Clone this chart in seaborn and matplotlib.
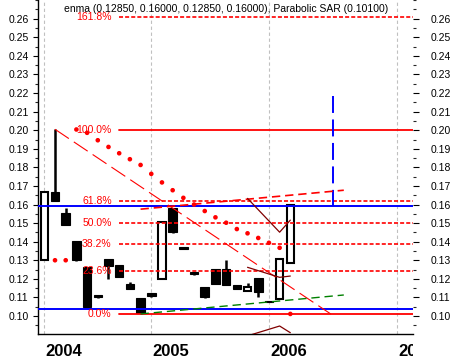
import numpy as np
import seaborn as sns
import matplotlib
matplotlib.use("Agg")
import matplotlib.pyplot as plt
from matplotlib.ticker import MultipleLocator, FixedLocator, FormatStrFormatter
from matplotlib.transforms import Bbox, TransformedBbox, blended_transform_factory

# candles (one per period, index 0 = first 2004 bar)
opens  = [0.1300, 0.1665, 0.1555, 0.1403, 0.1262, 0.1113, 0.1306, 0.1274, 0.1170, 0.1097,
          0.1122, 0.1199, 0.1580, 0.1370, 0.1235, 0.1154, 0.1253, 0.1253, 0.1165, 0.1136,
          0.1203, 0.1078, 0.1090, 0.1285]
highs  = [0.1670, 0.2005, 0.1580, 0.1403, 0.1262, 0.1113, 0.1306, 0.1274, 0.1185, 0.1097,
          0.1122, 0.1504, 0.1580, 0.1370, 0.1235, 0.1154, 0.1255, 0.1300, 0.1165, 0.1176,
          0.1203, 0.1078, 0.1305, 0.1605]
lows   = [0.1300, 0.1620, 0.1490, 0.1297, 0.1050, 0.1095, 0.1197, 0.1210, 0.1143, 0.1010,
          0.1100, 0.1199, 0.1445, 0.1358, 0.1220, 0.1097, 0.1174, 0.1168, 0.1143, 0.1136,
          0.1100, 0.1074, 0.1090, 0.1285]
closes = [0.1670, 0.1620, 0.1490, 0.1300, 0.1050, 0.1100, 0.1270, 0.1210, 0.1143, 0.1014,
          0.1108, 0.1504, 0.1450, 0.1360, 0.1225, 0.1104, 0.1174, 0.1168, 0.1143, 0.1158,
          0.1131, 0.1074, 0.1305, 0.1600]

# parabolic SAR dots
sar_x = list(range(1, 24))
sar_y = [0.1300, 0.1300, 0.2004, 0.1986, 0.1946, 0.1910, 0.1876, 0.1844, 0.1813, 0.1765,
         0.1719, 0.1677, 0.1636, 0.1600, 0.1565, 0.1531, 0.1502, 0.1468, 0.1445, 0.1420,
         0.1394, 0.1367, 0.1011]

# fibonacci retracement
fib_labels = ["0.0%", "23.6%", "38.2%", "50.0%", "61.8%", "100.0%", "161.8%"]
fib_levels = [0.1010, 0.1243, 0.1387, 0.1502, 0.1620, 0.2000, 0.2607]
fib_solid  = [True, False, False, False, False, True, False]

# support / resistance
hlines_blue = [0.1036, 0.1591]
vline_x, vline_y = [27, 27], [0.2183, 0.1590]

# trend line and channel
trend_x, trend_y = [1, 26.8], [0.2005, 0.1010]
chan_x = [9, 28]
chan_up = [0.1575, 0.1677]
chan_lo = [0.1011, 0.1113]

# envelope lines
env_x = [19, 22, 23]
env_up = [0.1633, 0.1451, 0.1516]
env_mid = [0.1262, 0.1208, 0.1215]
env_lo = [0.0893, 0.0946, 0.0910]

years = ["2004", "2005", "2006", "2007"]
year_pos = [0, 10, 21, 33]

title = "enma (0.12850, 0.16000, 0.12850, 0.16000), Parabolic SAR (0.10100)"

sns.set_style("white")
plt.rcParams['font.family'] = ['Liberation Sans', 'DejaVu Sans']
plt.rcParams['lines.scale_dashes'] = False

W, H = 452, 360
fig = plt.figure(figsize=(W / 100, H / 100), dpi=100)
ax = fig.add_axes([38 / W, 26 / H, 375 / W, 334 / H])
ax.set_xlim(-0.59, 34.47)
ax.set_ylim(0.0903, 0.2701)

# year grid
for p in year_pos:
    ax.axvline(p, color="#c0c0c0", lw=0.8, dashes=(2.4, 1.9), zorder=1)

# candles
x = np.arange(len(opens))
o, h, l, c = map(np.array, (opens, highs, lows, closes))
up = c > o
ax.vlines(x, l, h, color="black", lw=1.8, zorder=2)
ax.bar(x[~up], o[~up] - c[~up], bottom=c[~up], width=0.8, color="black",
       edgecolor="black", lw=0.8, zorder=3)
ax.bar(x[up], c[up] - o[up], bottom=o[up], width=0.7, facecolor="white",
       edgecolor="black", lw=1.5, zorder=3)

# fib levels
red = "#ff0000"
for lab, lev, solid in zip(fib_labels, fib_levels, fib_solid):
    if solid:
        ax.plot([7, 34.47], [lev, lev], color=red, lw=1.3, zorder=4)
    else:
        ax.plot([7, 34.47], [lev, lev], color=red, lw=1.2, dashes=(2.9, 1.5), zorder=4)
    ax.text(6.3, lev, lab, color=red, fontsize=7.5, ha="right", va="center", zorder=6)

# blue lines
for v in hlines_blue:
    ax.axhline(v, color="#0000ff", lw=1.4, zorder=4)
ax.plot(vline_x, vline_y, color="#0000ff", lw=1.4, dashes=(12.2, 4.7), zorder=4)

# trend / channel
ax.plot(trend_x, trend_y, color=red, lw=0.8, dashes=(12, 4.3), zorder=4)
ax.plot(chan_x, chan_up, color=red, lw=1.2, dashes=(6, 3.5), zorder=4)
ax.plot(chan_x, chan_lo, color="#008000", lw=1.0, dashes=(6, 3.5), zorder=4)

# envelopes
for ys in (env_up, env_mid, env_lo):
    sns.lineplot(x=env_x, y=ys, color="#800000", lw=0.9, sort=False, ax=ax, zorder=4)

# SAR
sns.scatterplot(x=sar_x, y=sar_y, color=red, s=11, edgecolor="none", ax=ax, zorder=5)

# axes styling
for s in ("top", "right"):
    ax.spines[s].set_visible(False)
for s in ("left", "bottom"):
    ax.spines[s].set_color("black")
    ax.spines[s].set_linewidth(1.0)

yt = [0.10, 0.11, 0.12, 0.13, 0.14, 0.15, 0.16, 0.17, 0.18, 0.19, 0.20,
      0.21, 0.22, 0.23, 0.24, 0.25, 0.26]
ax.yaxis.set_major_locator(FixedLocator(yt))
ax.yaxis.set_minor_locator(MultipleLocator(0.005))
ax.yaxis.set_major_formatter(FormatStrFormatter("%.2f"))
ax.tick_params(axis="y", which="major", direction="out", length=3.6, width=0.8,
               pad=3.2, labelsize=7.5, colors="black")
ax.tick_params(axis="y", which="minor", direction="out", length=2.2, width=0.8)

ax.xaxis.set_major_locator(FixedLocator(year_pos))
ax.xaxis.set_minor_locator(FixedLocator(list(range(0, 35))))
ax.set_xticklabels([])
ax.tick_params(axis="x", which="major", direction="out", length=18.7, width=1.4, color="black")
ax.tick_params(axis="x", which="minor", direction="out", length=5.8, width=0.8, color="black")
ax.set_xlabel("")
ax.set_ylabel("")

ax2 = ax.twinx()
ax2.set_ylim(ax.get_ylim())
ax2.yaxis.set_major_locator(FixedLocator(yt))
ax2.yaxis.set_minor_locator(MultipleLocator(0.005))
ax2.yaxis.set_major_formatter(FormatStrFormatter("%.2f"))
ax2.tick_params(axis="y", which="major", direction="out", length=4.3, width=0.8,
                pad=8.4, labelsize=7.5, colors="black")
ax2.tick_params(axis="y", which="minor", direction="out", length=2.2, width=0.8)
for s in ax2.spines.values():
    s.set_visible(False)

# year labels, clipped to plot width
clip = TransformedBbox(Bbox([[38 / W, 0], [413 / W, 1]]), fig.transFigure)
tr = blended_transform_factory(ax.transData, ax.transAxes)
for lab, p in zip(years, year_pos):
    t = ax.text(p + 0.14, -0.066, lab, transform=tr, fontsize=12, fontweight="bold",
                ha="left", va="baseline", color="black")
    t.set_clip_box(clip)
    t.set_clip_on(True)

fig.text(0.501, 1 - 8.7 / H, title, ha="center", va="center", fontsize=7.5, color="black")

fig.savefig("out.png", dpi=100)
